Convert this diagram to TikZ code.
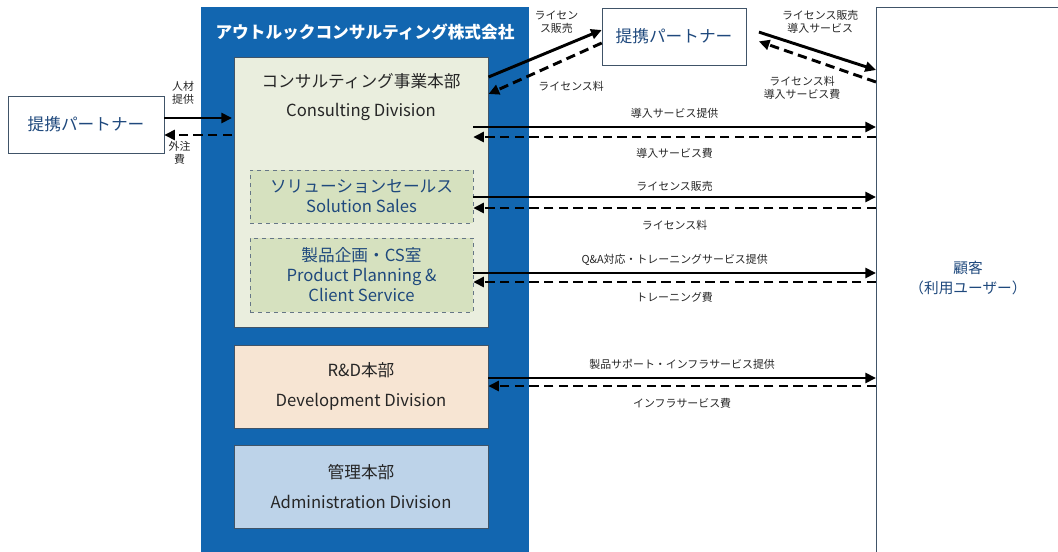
\documentclass[tikz,border=0pt]{standalone}
\usepackage{fontspec}
\setmainfont{Noto Sans CJK JP}
\usepackage{tikz}
\usetikzlibrary{arrows.meta,positioning}
\definecolor{corpblue}{RGB}{18,102,176}
\definecolor{consfill}{RGB}{234,238,222}
\definecolor{subfill}{RGB}{214,225,191}
\definecolor{rdfill}{RGB}{247,229,211}
\definecolor{admfill}{RGB}{189,211,233}
\definecolor{boxline}{RGB}{64,84,104}
\definecolor{navytext}{RGB}{31,73,125}

\begin{document}
\begin{tikzpicture}[->,>={Triangle[length=8pt,width=7.5pt]},x=0.75pt,y=-0.75pt,semithick]
\tikzstyle{div}=[draw=boxline,thin,inner sep=0pt,minimum width=190.5pt,minimum height=62.25pt,align=center,text=black!85,font=\fontsize{12.5}{22}\selectfont]
\tikzstyle{sub}=[draw=boxline!80,thin,dashed,fill=subfill,inner sep=0pt,minimum width=167.25pt,align=center,text=navytext,font=\fontsize{12.5}{15}\selectfont]
\tikzstyle{partner}=[draw=boxline,thin,fill=white,inner sep=0pt,minimum height=42.75pt,text=navytext,font=\fontsize{12.5}{15}\selectfont]
\tikzstyle{give}=[line width=2.2pt]
\tikzstyle{pay}=[line width=2.2pt,dash pattern=on 7pt off 4pt]
\tikzstyle{lbl}=[font=\fontsize{8.2}{9.5}\selectfont,text=black!85,align=center,inner sep=2pt]

\useasboundingbox (0,0) rectangle (1058,551);

% the company and its divisions
\node[fill=corpblue,inner sep=0pt,minimum width=246pt,minimum height=420pt,anchor=north west] (Co) at (201,7) {};
\node[text=white,font=\bfseries\fontsize{12.5}{15}\selectfont] (CoName) at (365,32) {アウトルックコンサルティング株式会社};
\node[div,fill=consfill,minimum height=202.5pt,anchor=north west] (CD) at (234,57) {};
\node[font=\fontsize{12.5}{22}\selectfont,text=black!85,align=center] (CDname) at (361,97) {コンサルティング事業本部\\Consulting Division};
\node[sub,minimum height=39.75pt] (SS) at (361.5,196.5) {ソリューションセールス\\Solution Sales};
\node[sub,minimum height=55.5pt] (PP) at (361.5,275) {製品企画・CS室\\Product Planning \&\\Client Service};
\node[div,fill=rdfill] (RD) at (361,386.5) {R\&D本部\\Development Division};
\node[div,fill=admfill] (AD) at (361,486.5) {管理本部\\Administration Division};

% partners and customer
\node[partner,minimum width=117pt] (LP) at (86,124.5) {提携パートナー};
\node[partner,minimum width=108pt] (TP) at (674,36.5) {提携パートナー};
\node[draw=boxline,thin,fill=white,inner sep=0pt,minimum width=150pt,minimum height=420pt,anchor=north west] (CU) at (876,7) {};
\node[text=navytext,align=center,font=\fontsize{11}{15}\selectfont] (CUname) at (968,278) {顧客\\（利用ユーザー）};

% heights of the flows
\coordinate (l1) at (0,118); \coordinate (l2) at (0,135);
\coordinate (d1) at (0,77);  \coordinate (d2) at (0,30);
\coordinate (d3) at (0,43);  \coordinate (d4) at (0,94);
\coordinate (e1) at (0,28);  \coordinate (e2) at (0,70);
\coordinate (e3) at (0,82);  \coordinate (e4) at (0,37);
\coordinate (h1) at (0,127); \coordinate (h2) at (0,137);
\coordinate (h3) at (0,197); \coordinate (h4) at (0,208);
\coordinate (h5) at (0,273); \coordinate (h6) at (0,282);
\coordinate (h7) at (0,378); \coordinate (h8) at (0,386);

\path
(LP.east |- l1) edge[give,shorten >=1.5pt] node[lbl,pos=0.27,above=7pt] {人材\\提供} (CD.west |- l1)
(CD.west |- l2) edge[pay,shorten <=1.5pt] node[lbl,pos=0.78,below=1.5pt] {外注\\費} (LP.east |- l2)
(CD.east |- d1) edge[give] node[lbl,pos=0.6,above=8.5pt] {ライセン\\ス販売} (TP.west |- d2)
(TP.west |- d3) edge[pay] node[lbl,pos=0.27,below=15pt] {ライセンス料} (CD.east |- d4)
(TP.east |- e1) edge[give,shorten <=10pt] node[lbl,pos=0.57,above=11pt] {ライセンス販売\\導入サービス} (CU.west |- e2)
(CU.west |- e3) edge[pay,shorten >=10pt] node[lbl,pos=0.57,below=12pt] {ライセンス料\\導入サービス費} (TP.east |- e4)
(SS.east |- h1) edge[give] node[lbl,above=3pt] {導入サービス提供} (CU.west |- h1)
(CU.west |- h2) edge[pay] node[lbl,below=5pt] {導入サービス費} (SS.east |- h2)
(SS.east |- h3) edge[give] node[lbl,above=1pt] {ライセンス販売} (CU.west |- h3)
(CU.west |- h4) edge[pay] node[lbl,below=6pt] {ライセンス料} (SS.east |- h4)
(PP.east |- h5) edge[give] node[lbl,above=2.5pt] {Q\&A対応・トレーニングサービス提供} (CU.west |- h5)
(CU.west |- h6) edge[pay] node[lbl,below=5pt] {トレーニング費} (PP.east |- h6)
(RD.east |- h7) edge[give] node[lbl,above=3pt] {製品サポート・インフラサービス提供} (CU.west |- h7)
(CU.west |- h8) edge[pay] node[lbl,below=6pt] {インフラサービス費} (RD.east |- h8);
\end{tikzpicture}
\end{document}
